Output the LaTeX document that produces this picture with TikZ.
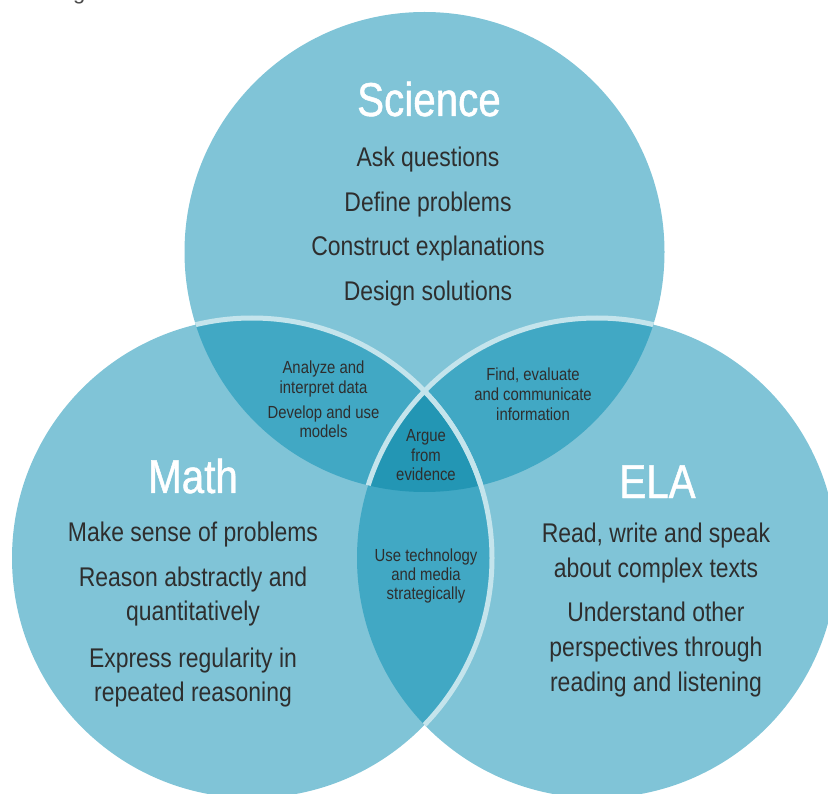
\documentclass[tikz,border=0pt]{standalone}
\usepackage{fontspec}
\setmainfont{Liberation Sans}[FakeStretch=0.85]
\newfontfamily\topfont{Liberation Sans}
\newfontfamily\titlefont{Liberation Sans}[FakeStretch=0.85, FakeBold=1]
\definecolor{cL}{HTML}{80C4D7}
\definecolor{cD}{HTML}{41A8C4}
\definecolor{cT}{HTML}{2396B4}
\definecolor{cS}{HTML}{C4E4EC}
\definecolor{txt}{HTML}{2E2E2E}
\begin{document}
\begin{tikzpicture}[x=1pt,y=-1pt,
  title/.style={text=white, font=\titlefont\fontsize{47.5}{50}\selectfont, anchor=base, inner sep=0pt},
  item/.style={text=txt, font=\fontsize{27}{30}\selectfont, anchor=base, inner sep=0pt},
  small/.style={text=txt, font=\fontsize{17.5}{20}\selectfont, anchor=base, inner sep=0pt},
  rim/.style={draw=cS, line width=5pt}]
\useasboundingbox (0,0) rectangle (828,794);
\clip (0,0) rectangle (828,794);
\def\R{240}
\coordinate (S) at (424.5,252);
\coordinate (M) at (252,558);
\coordinate (E) at (597,558);
% base fills
\fill[cL] (S) circle (\R);
\fill[cL] (M) circle (\R);
\fill[cL] (E) circle (\R);
% pairwise overlaps
\begin{scope}
  \clip (S) circle (\R);
  \fill[cD] (M) circle (\R);
  \fill[cD] (E) circle (\R);
\end{scope}
\begin{scope}
  \clip (M) circle (\R);
  \fill[cD] (E) circle (\R);
\end{scope}
% triple overlap
\begin{scope}
  \clip (S) circle (\R);
  \clip (M) circle (\R);
  \fill[cT] (E) circle (\R);
\end{scope}
% light rims
\begin{scope}
  \clip (S) circle (\R);
  \draw[rim] (E) circle (\R);
  \draw[rim] (M) circle (\R);
\end{scope}
\begin{scope}
  \clip (E) circle (\R);
  \draw[rim] (M) circle (\R);
\end{scope}
% cut-off line of text above
\node[anchor=base east, inner sep=0pt, text=black!70, font=\topfont\fontsize{22}{24}\selectfont] (top) at (192,0) {the diagram below.};
% Science
\node[title] (sciT) at (429,116) {Science};
\node[item] (s1) at (428,167) {Ask questions};
\node[item] (s2) at (428,212) {Define problems};
\node[item] (s3) at (428,256) {Construct explanations};
\node[item] (s4) at (428,301) {Design solutions};
% Math
\node[title] (mathT) at (193,493) {Math};
\node[item] (m1) at (193,541) {Make sense of problems};
\node[item] (m2) at (193,586) {Reason abstractly and};
\node[item] (m3) at (193,620) {quantitatively};
\node[item] (m4) at (193,667) {Express regularity in};
\node[item] (m5) at (193,701) {repeated reasoning};
% ELA
\node[title] (elaT) at (657.5,498) {ELA};
\node[item] (e1) at (656,542) {Read, write and speak};
\node[item] (e2) at (656,577) {about complex texts};
\node[item] (e3) at (656,621) {Understand other};
\node[item] (e4) at (656,656) {perspectives through};
\node[item] (e5) at (656,691) {reading and listening};
% Science & Math
\node[small] (sm1) at (323.5,374) {Analyze and};
\node[small] (sm2) at (323.5,393.3) {interpret data};
\node[small] (sm3) at (323.5,418.3) {Develop and use};
\node[small] (sm4) at (323.5,437.7) {models};
% Science & ELA
\node[small] (se1) at (533,381) {Find, evaluate};
\node[small] (se2) at (533,401) {and communicate};
\node[small] (se3) at (533,420.7) {information};
% all three
\node[small] (a1) at (426,441.7) {Argue};
\node[small] (a2) at (426,461) {from};
\node[small] (a3) at (426,480) {evidence};
% Math & ELA
\node[small] (me1) at (426,561) {Use technology};
\node[small] (me2) at (426,580) {and media};
\node[small] (me3) at (426,599.3) {strategically};
\end{tikzpicture}
\end{document}
